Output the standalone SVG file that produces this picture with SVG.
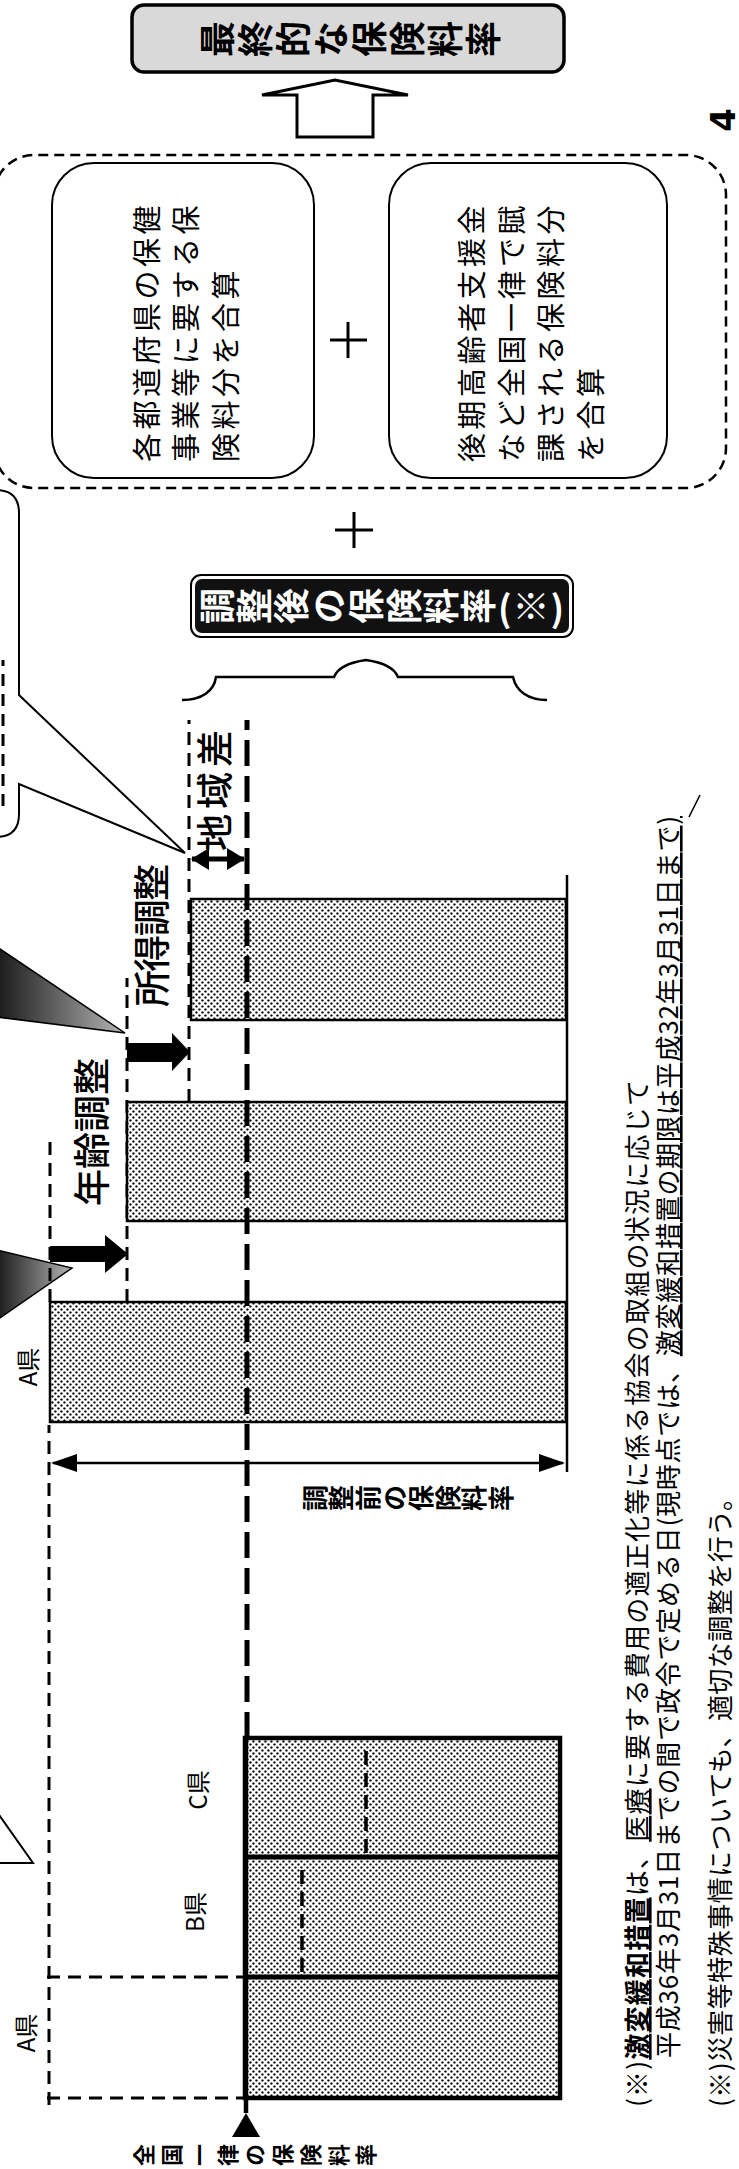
<svg xmlns="http://www.w3.org/2000/svg" width="739" height="2169" viewBox="0 0 739 2169">
<defs>
<style>
.t{font-family:"Noto Sans CJK JP","Noto Sans",sans-serif;fill:#000}
.v{writing-mode:vertical-rl}
.c{dominant-baseline:central}
.m{text-anchor:middle}
.bar{fill:url(#dots);stroke:#000;stroke-width:2.5}
.dl{fill:none;stroke:#000;stroke-width:3;stroke-dasharray:13 8}
.rb{fill:#fff;stroke:#000;stroke-width:2}
.u{text-decoration:underline}
.lbl{font-size:37px;font-weight:500}
.note{font-size:26px}
</style>
<pattern id="dots" width="6" height="6" patternUnits="userSpaceOnUse">
<rect width="6" height="6" fill="#fff"/>
<circle cx="1.5" cy="1.5" r="1.15" fill="#000"/>
<circle cx="4.5" cy="4.5" r="1.15" fill="#000"/>
</pattern>
<linearGradient id="dark" x1="0" y1="0" x2="0" y2="1">
<stop offset="0" stop-color="#1a1a1a"/>
<stop offset="1" stop-color="#b5b5b5"/>
</linearGradient>
<marker id="ah" markerUnits="userSpaceOnUse" markerWidth="26" markerHeight="18" viewBox="0 0 26 18" refX="24" refY="9" orient="auto-start-reverse">
<path d="M0,0L26,9L0,18z" fill="#000"/>
</marker>
<marker id="ah2" markerUnits="userSpaceOnUse" markerWidth="18" markerHeight="22" viewBox="0 0 18 22" refX="17" refY="11" orient="auto-start-reverse">
<path d="M0,0L18,11L0,22z" fill="#000"/>
</marker>
</defs>
<rect width="739" height="2169" fill="#fff"/>
<g transform="translate(0,2169) rotate(-90)">

<g id="final">
<rect x="2097" y="132" width="67" height="432" rx="12" fill="#d9d9d9" stroke="#000" stroke-width="3.5"/>
<text class="t v" x="2130" y="199" font-size="36" font-weight="bold" textLength="302" lengthAdjust="spacing">最終的な保険料率</text>
</g>

<g id="arrow-up">
<polygon points="2032,297 2074,297 2074,262 2089,335 2074,408 2074,373 2032,373" fill="#fff" stroke="#000" stroke-width="3"/>
</g>

<g id="sum">
<rect x="1681" y="-6" width="333" height="732" rx="40" fill="none" stroke="#000" stroke-width="2.5" stroke-dasharray="10 6"/>
</g>

<g id="box-hoken">
<rect class="rb" x="1691" y="52" width="315" height="262" rx="42"/>
<text class="t c" x="1707" y="145" font-size="29" letter-spacing="3.5">各都道府県の保健</text>
<text class="t c" x="1707" y="184" font-size="29" letter-spacing="3.5">事業等に要する保</text>
<text class="t c" x="1707" y="224" font-size="29" letter-spacing="3.5">険料分を合算</text>
</g>

<g id="plus1">
<path d="M1811,348H1847M1829,330V367" stroke="#000" stroke-width="3" fill="none"/>
</g>

<g id="box-shien">
<rect class="rb" x="1691" y="389" width="315" height="278" rx="42"/>
<text class="t c" x="1707" y="470" font-size="29" letter-spacing="3.5">後期高齢者支援金</text>
<text class="t c" x="1707" y="510" font-size="29" letter-spacing="3.5">など全国一律で賦</text>
<text class="t c" x="1707" y="549" font-size="29" letter-spacing="3.5">課される保険料分</text>
<text class="t c" x="1707" y="589" font-size="29" letter-spacing="3.5">を合算</text>
</g>

<g id="plus2">
<path d="M1621,354H1657M1639,335V373" stroke="#000" stroke-width="3" fill="none"/>
</g>

<g id="adjusted">
<rect x="1532" y="191" width="62" height="382" rx="10" fill="#fff" stroke="#000" stroke-width="2"/>
<rect x="1536" y="195" width="54" height="374" rx="7" fill="#111"/>
<text class="t v" x="1563" y="199" font-size="36" font-weight="bold" fill="#fff" style="fill:#fff" textLength="365" lengthAdjust="spacing">調整後の保険料率(※)</text>
</g>

<g id="brace">
<path d="M1469,182 C1469,202 1478,214 1492,216 L1492,334 C1502,338 1507,352 1509,366 C1507,380 1502,394 1492,398 L1492,513 C1478,516 1469,528 1469,547" fill="none" stroke="#000" stroke-width="2.5"/>
</g>

<g id="callouts">
<path d="M1679,-4 Q1679,19 1656,19 L1474,19 L1316,185 L1385,19 L1355,19 Q1332,19 1332,-4" fill="#fff" stroke="#000" stroke-width="2"/>
<path d="M1363,3H1509" fill="none" stroke="#000" stroke-width="3" stroke-dasharray="12 8"/>
<polygon points="1222,-3 1136,125 1152,-3" fill="url(#dark)" stroke="#000" stroke-width="1.5"/>
<polygon points="919,-3 901,72 849,-3" fill="url(#dark)" stroke="#000" stroke-width="1.5"/>
<path d="M357,-3L306,33L306,-3" fill="#fff" stroke="#000" stroke-width="2"/>
</g>

<g id="connectors">
<path class="dl" d="M64,49H744"/>
<path class="dl" d="M71,47V245M192,47V245"/>
<path class="dl" d="M867,50H1029"/>
<path class="dl" d="M867,127H1191"/>
<path class="dl" d="M1067,189H1449"/>
<line x1="706" y1="53" x2="706" y2="563" stroke="#000" stroke-width="2.5" marker-start="url(#ah)" marker-end="url(#ah)"/>
<line x1="1310" y1="192" x2="1310" y2="244" stroke="#000" stroke-width="5" marker-start="url(#ah2)" marker-end="url(#ah2)"/>
<path d="M697,567H1294" stroke="#000" stroke-width="2.5" fill="none"/>
</g>

<g id="bars-before">
<rect x="71" y="245" width="360" height="315" fill="url(#dots)" stroke="#000" stroke-width="4.5"/>
<path d="M192,245V560M312,245V560" stroke="#000" stroke-width="5" fill="none"/>
<path d="M197,302H307M316,366H426" fill="none" stroke="#000" stroke-width="3.5" stroke-dasharray="14 8"/>
<text class="t c m" x="136" y="24" font-size="24">A県</text>
<text class="t c m" x="257" y="193" font-size="24">B県</text>
<text class="t c m" x="379" y="196" font-size="24">C県</text>
</g>

<g id="bar-a">
<rect class="bar" x="747" y="50" width="120" height="516"/>
<text class="t c m" x="802" y="26" font-size="24">A県</text>
</g>

<g id="bar-age">
<rect class="bar" x="948" y="127" width="119" height="439"/>
<polygon points="907,50 923,50 923,105 934,105 915,128 896,105 907,105" fill="#000"/>
<text class="t c lbl" x="963" y="90" textLength="148" lengthAdjust="spacing">年齢調整</text>
</g>

<g id="bar-income">
<rect class="bar" x="1149" y="191" width="121" height="375"/>
<polygon points="1107,127 1126,127 1126,172 1136,172 1117,190 1098,172 1107,172" fill="#000"/>
<text class="t c lbl" x="1162" y="150" textLength="143" lengthAdjust="spacing">所得調整</text>
</g>

<g id="region">
<text class="t c lbl" x="1318" y="213" textLength="121" lengthAdjust="spacing">地域差</text>
</g>

<g id="national">
<path d="M431,247H1449" fill="none" stroke="#000" stroke-width="5" stroke-dasharray="26 10"/>
<path d="M56,246H431" fill="none" stroke="#000" stroke-width="4.5"/>
<polygon points="56,246 32,232 32,260" fill="#000"/>
<text class="t v" x="14" y="133" font-size="22" font-weight="bold" textLength="244" lengthAdjust="spacing">全国一律の保険料率</text>
</g>

<g id="before-label">
<text class="t v" x="671" y="302" font-size="26" font-weight="bold" textLength="212" lengthAdjust="spacing">調整前の保険料率</text>
</g>

<g id="notes">
<text class="t c note" x="62" y="635" textLength="1027" lengthAdjust="spacing">(※)<tspan class="u" font-weight="bold">激変緩和措置</tspan>は、<tspan class="u">医療</tspan>に要する費用の適正化等に係る協会の取組の状況に応じて</text>
<text class="t c note" x="111" y="666" textLength="1242" lengthAdjust="spacing">平成36年3月31日までの間で政令で定める日(現時点では、<tspan class="u">激変緩和措置の期限は平成32年3月31日まで)</tspan></text>
<text class="t c note" x="62" y="718" textLength="622" lengthAdjust="spacing">(※)災害等特殊事情についても、適切な調整を行う。</text>
<path d="M1352,689L1374,700" stroke="#000" stroke-width="1.5" fill="none"/>
</g>

<g id="page">
<text class="t c m" x="2049" y="723" font-size="34" font-weight="bold" style="font-family:'DejaVu Sans',sans-serif">4</text>
</g>

</g>
</svg>
